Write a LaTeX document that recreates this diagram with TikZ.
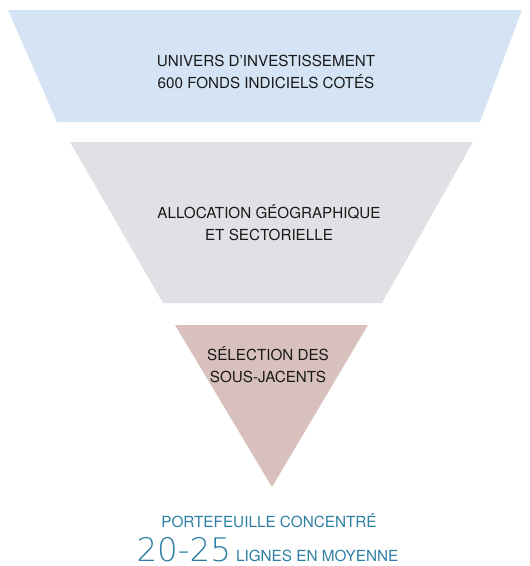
\documentclass[tikz,border=0pt]{standalone}
\usepackage{fontspec}
\setmainfont{TeX Gyre Heros}
\newfontfamily\lightfont{DejaVu Sans ExtraLight}
\definecolor{univblue}{HTML}{D4E4F4}
\definecolor{allocgray}{HTML}{E2E0E4}
\definecolor{selrose}{HTML}{D8C1BD}
\definecolor{portblue}{HTML}{2E7FA4}
\begin{document}
\begin{tikzpicture}[x=1pt,y=-1pt,inner sep=0pt,outer sep=0pt,
stagetext/.style={align=center,font=\fontsize{15.2}{22}\selectfont,text=black!90},
porttext/.style={text=portblue,font=\fontsize{15.3}{16}\selectfont}]
\useasboundingbox (0,0) rectangle (530,566);
% funnel stages
\fill[univblue] (8,10) -- (522,10) -- (480,122) -- (57,122) -- cycle;
\fill[allocgray] (70,142) -- (473,142) -- (382,303) -- (163,303) -- cycle;
\fill[selrose] (175,325) -- (368,325) -- (272,487) -- cycle;
\node[stagetext] (univers) at (266,71.5) {UNIVERS D’INVESTISSEMENT\\600 FONDS INDICIELS COTÉS};
\node[stagetext] (alloc) at (269,222.5) {ALLOCATION GÉOGRAPHIQUE\\ET SECTORIELLE};
\node[stagetext] (select) at (268,365) {SÉLECTION DES\\SOUS-JACENTS};
% result
\node[porttext] (port) at (269,521) {PORTEFEUILLE CONCENTRÉ};
\node[porttext,anchor=base west,text depth=0pt] (lignes) at (236,561) {LIGNES EN MOYENNE};
\node[text=portblue,anchor=base east,text depth=0pt,font=\lightfont\fontsize{32.5}{36}\selectfont] (nb) at (lignes.base west) {20-25\kern5pt};
\end{tikzpicture}
\end{document}
